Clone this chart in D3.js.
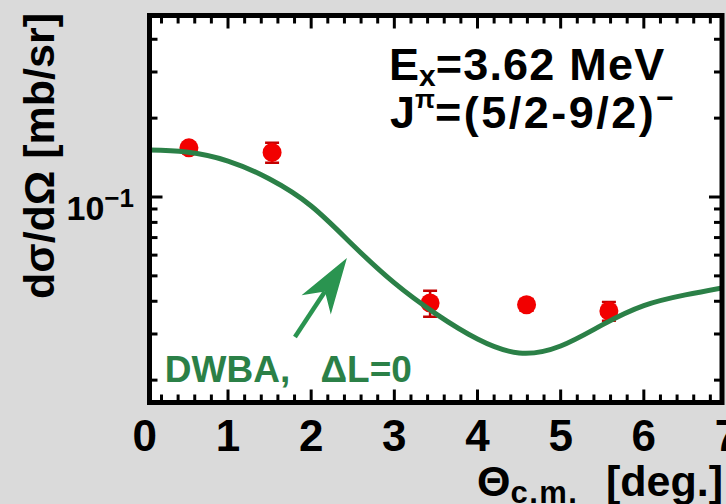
<!DOCTYPE html>
<html>
<head>
<meta charset="utf-8">
<script src="https://cdn.jsdelivr.net/npm/d3@7"></script>
<style>
  html, body { margin: 0; padding: 0; background: #dadada; }
  svg { display: block; }
  text { font-family: "Liberation Sans", Arial, sans-serif; font-weight: bold; }
</style>
</head>
<body>
<svg id="chart" width="726" height="504"></svg>
<script>
// Measured angular distribution (points with errors)
const thetaData = [0.53, 1.53, 3.43, 4.59, 5.58];
const sigmaData = [0.154, 0.148, 0.0394, 0.0388, 0.0367];
const sigmaErr  = [0.004, 0.013, 0.0045, 0.002, 0.003];

// DWBA calculation, Delta L = 0
const thetaCalc = [0.056, 0.5, 1.0, 1.5, 2.0, 2.5, 3.0, 3.5, 4.0, 4.5, 5.0, 5.5, 6.0, 6.5, 6.94];
const sigmaCalc = [0.1511, 0.1485, 0.1372, 0.1171, 0.0924, 0.0656, 0.0470, 0.0358, 0.0287, 0.0254, 0.0270, 0.0325, 0.0385, 0.0423, 0.0450];

// Axis ticks
const xMajorTicks = [0, 1, 2, 3, 4, 5, 6, 7];
const yMajorTicks = [0.1];
const yMinorTicks = [0.02, 0.03, 0.04, 0.05, 0.06, 0.07, 0.08, 0.09, 0.2, 0.3, 0.4];

// Arrow pointing at the curve (tail, tip) in data units
const arrowTheta = [1.805, 2.43];
const arrowSigma = [0.0292, 0.0585];

const svg = d3.select("#chart");
const box = { left: 149.5, right: 722, top: 15.5, bottom: 402.5 };

const x = d3.scaleLinear().domain([0.056, 6.94]).range([box.left, box.right]);
const y = d3.scaleLog().domain([0.01643, 0.4929]).range([box.bottom, box.top]);

const green = "#2b8047";
const arrowGreen = "#2a9450";

// plot area
svg.append("rect")
  .attr("x", box.left).attr("y", box.top)
  .attr("width", box.right - box.left).attr("height", box.bottom - box.top)
  .attr("fill", "#ffffff");

svg.append("defs").append("clipPath").attr("id", "plotclip")
  .append("rect")
  .attr("x", box.left).attr("y", box.top)
  .attr("width", box.right - box.left).attr("height", box.bottom - box.top);

const plot = svg.append("g").attr("clip-path", "url(#plotclip)");

// error bars
const pts = thetaData.map((t, i) => ({ t, s: sigmaData[i], e: sigmaErr[i] }));
const eb = plot.append("g").attr("stroke", "#c40000").attr("stroke-width", 2.5).attr("fill", "none");
pts.forEach(p => {
  const cx = x(p.t), y1 = y(p.s + p.e), y2 = y(p.s - p.e);
  eb.append("line").attr("x1", cx).attr("x2", cx).attr("y1", y1).attr("y2", y2);
  eb.append("line").attr("x1", cx - 7).attr("x2", cx + 7).attr("y1", y1).attr("y2", y1);
  eb.append("line").attr("x1", cx - 7).attr("x2", cx + 7).attr("y1", y2).attr("y2", y2);
});

// data markers
plot.append("g").selectAll("circle").data(pts).join("circle")
  .attr("cx", d => x(d.t)).attr("cy", d => y(d.s)).attr("r", 9.5)
  .attr("fill", "#f20000");

// DWBA curve
const calc = thetaCalc.map((t, i) => [t, sigmaCalc[i]]);
plot.append("path")
  .datum(calc)
  .attr("fill", "none")
  .attr("stroke", green)
  .attr("stroke-width", 5)
  .attr("stroke-linecap", "round")
  .attr("d", d3.line().x(d => x(d[0])).y(d => y(d[1])).curve(d3.curveNatural));

// arrow
{
  const tx = x(arrowTheta[0]), ty = y(arrowSigma[0]);
  const hx = x(arrowTheta[1]), hy = y(arrowSigma[1]);
  const len = Math.hypot(hx - tx, hy - ty);
  const ux = (hx - tx) / len, uy = (hy - ty) / len;
  const px = -uy, py = ux;
  const headLen = 56, notch = 40, half = 17.5;
  const bx = hx - ux * headLen, by = hy - uy * headLen;
  const nx = hx - ux * notch, ny = hy - uy * notch;
  plot.append("line")
    .attr("x1", tx).attr("y1", ty).attr("x2", nx).attr("y2", ny)
    .attr("stroke", arrowGreen).attr("stroke-width", 4.5);
  plot.append("path")
    .attr("d", `M${hx},${hy}L${bx + px * half},${by + py * half}L${nx},${ny}L${bx - px * half},${by - py * half}Z`)
    .attr("fill", arrowGreen);
}

// frame ticks (inward, mirrored on all sides)
const tk = svg.append("g").attr("stroke", "#000").attr("stroke-width", 3);
const xMinor = d3.range(1, 35).map(i => i * 0.2).filter(v => Math.abs(v - Math.round(v)) > 1e-6);
xMinor.forEach(v => {
  const px = x(v);
  tk.append("line").attr("x1", px).attr("x2", px).attr("y1", box.bottom).attr("y2", box.bottom - 8);
  tk.append("line").attr("x1", px).attr("x2", px).attr("y1", box.top).attr("y2", box.top + 8);
});
xMajorTicks.filter(v => v > 0.1 && v < 6.9).forEach(v => {
  const px = x(v);
  tk.append("line").attr("x1", px).attr("x2", px).attr("y1", box.bottom).attr("y2", box.bottom - 13);
  tk.append("line").attr("x1", px).attr("x2", px).attr("y1", box.top).attr("y2", box.top + 13);
});
yMinorTicks.forEach(v => {
  const py = y(v);
  tk.append("line").attr("x1", box.left).attr("x2", box.left + 8).attr("y1", py).attr("y2", py);
  tk.append("line").attr("x1", box.right).attr("x2", box.right - 8).attr("y1", py).attr("y2", py);
});
yMajorTicks.forEach(v => {
  const py = y(v);
  tk.append("line").attr("x1", box.left).attr("x2", box.left + 13).attr("y1", py).attr("y2", py);
  tk.append("line").attr("x1", box.right).attr("x2", box.right - 13).attr("y1", py).attr("y2", py);
});

// frame
svg.append("rect")
  .attr("x", box.left).attr("y", box.top)
  .attr("width", box.right - box.left).attr("height", box.bottom - box.top)
  .attr("fill", "none").attr("stroke", "#000").attr("stroke-width", 5);

// x tick labels
svg.append("g").selectAll("text").data(xMajorTicks).join("text")
  .attr("x", d => x(d)).attr("y", 451)
  .attr("text-anchor", "middle")
  .attr("font-size", 44)
  .attr("fill", "#000")
  .text(d => d);

// y tick label 10^-1
yMajorTicks.forEach(v => {
  const t = svg.append("text")
    .attr("x", 134).attr("y", y(v) + 23)
    .attr("text-anchor", "end")
    .attr("font-size", 34).attr("font-weight", "normal")
    .attr("fill", "#000");
  t.append("tspan").text("10");
  t.append("tspan").attr("font-size", 26).attr("dy", -13).text("\u22121");
});

// axis titles
const xt = svg.append("text")
  .attr("y", 496)
  .attr("font-size", 43).attr("fill", "#000");
xt.append("tspan").attr("x", 477).text("\u0398");
xt.append("tspan").attr("font-size", 31).attr("dy", 7).attr("letter-spacing", 1.5).text("c.m.");
xt.append("tspan").attr("x", 606).attr("dy", -7).text("[deg.]");

svg.append("text")
  .attr("transform", "translate(54,156) rotate(-90)")
  .attr("text-anchor", "middle")
  .attr("font-size", 43).attr("fill", "#000")
  .text("d\u03c3/d\u03a9 [mb/sr]");

// state labels
const l1 = svg.append("text").attr("x", 389).attr("y", 80).attr("font-size", 45).attr("fill", "#000");
l1.append("tspan").text("E");
l1.append("tspan").attr("font-size", 30).attr("dy", 6).text("x");
l1.append("tspan").attr("dy", -6).attr("letter-spacing", 1.2).text("=3.62 MeV");

const l2 = svg.append("text").attr("x", 390).attr("y", 128).attr("font-size", 45).attr("fill", "#000");
l2.append("tspan").text("J");
l2.append("tspan").attr("font-size", 26).attr("dy", -20).text("\u03c0");
l2.append("tspan").attr("dy", 20).attr("letter-spacing", 2.5).text("=(5/2-9/2)");
l2.append("tspan").attr("font-size", 30).attr("dy", -20).text("\u2212");

// curve label
svg.append("text")
  .attr("x", x(0.24)).attr("y", y(0.0196))
  .attr("font-size", 37).attr("fill", green).attr("word-spacing", 20)
  .text("DWBA, \u0394L=0");
</script>
</body>
</html>
